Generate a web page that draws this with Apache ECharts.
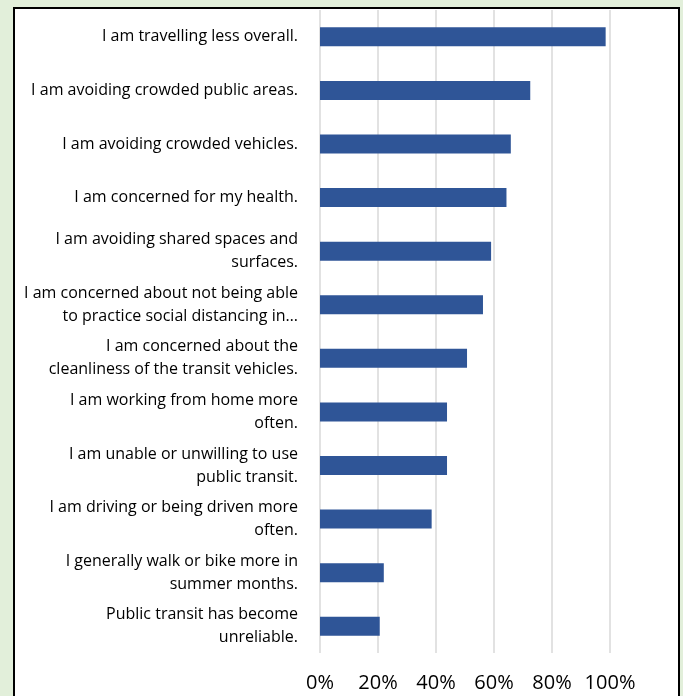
<!DOCTYPE html>
<html>
<head>
<meta charset="utf-8">
<script src="https://cdn.jsdelivr.net/npm/echarts@6/dist/echarts.min.js"></script>
<style>
  html, body { margin: 0; padding: 0; background: #e2efda; }
  .frame {
    position: absolute; left: 13px; top: 7px; width: 663px; height: 720px;
    border: 2px solid #000; background: #fff;
  }
  #chart { position: absolute; left: 0; top: 0; width: 683px; height: 696px; }
</style>
</head>
<body>
<div class="frame"></div>
<div id="chart"></div>
<script>
const categories = [
  'I am travelling less overall.',
  'I am avoiding crowded public areas.',
  'I am avoiding crowded vehicles.',
  'I am concerned for my health.',
  'I am avoiding shared spaces and\nsurfaces.',
  'I am concerned about not being able\nto practice social distancing in…',
  'I am concerned about the\ncleanliness of the transit vehicles.',
  'I am working from home more\noften.',
  'I am unable or unwilling to use\npublic transit.',
  'I am driving or being driven more\noften.',
  'I generally walk or bike more in\nsummer months.',
  'Public transit has become\nunreliable.'
]
const percents = [98.5, 72.5, 65.8, 64.3, 59, 56.2, 50.7, 43.8, 43.8, 38.5, 22, 20.6]
const xTicks = [0, 20, 40, 60, 80, 100]

const myChart = echarts.init(document.getElementById('chart'))
myChart.setOption({
  animation: false,
  grid: { left: 320, right: 73, top: 10, bottom: 43 },
  xAxis: {
    type: 'value',
    min: xTicks[0],
    max: xTicks[xTicks.length - 1],
    interval: 20,
    axisLine: { show: false },
    axisTick: { show: false },
    axisLabel: {
      formatter: '{value}%',
      fontFamily: 'Open Sans',
      fontSize: 20,
      color: '#000',
      margin: 20
    },
    splitLine: { show: true, lineStyle: { color: '#d9d9d9', width: 1.5 } }
  },
  yAxis: {
    type: 'category',
    inverse: true,
    data: categories,
    axisLine: { show: false },
    axisTick: { show: false },
    axisLabel: {
      fontFamily: 'Open Sans',
      fontSize: 16,
      lineHeight: 23,
      color: '#000',
      margin: 22,
      align: 'right'
    }
  },
  series: [{
    type: 'bar',
    data: percents,
    barWidth: 19,
    itemStyle: { color: '#2f5597' }
  }]
})
</script>
</body>
</html>
